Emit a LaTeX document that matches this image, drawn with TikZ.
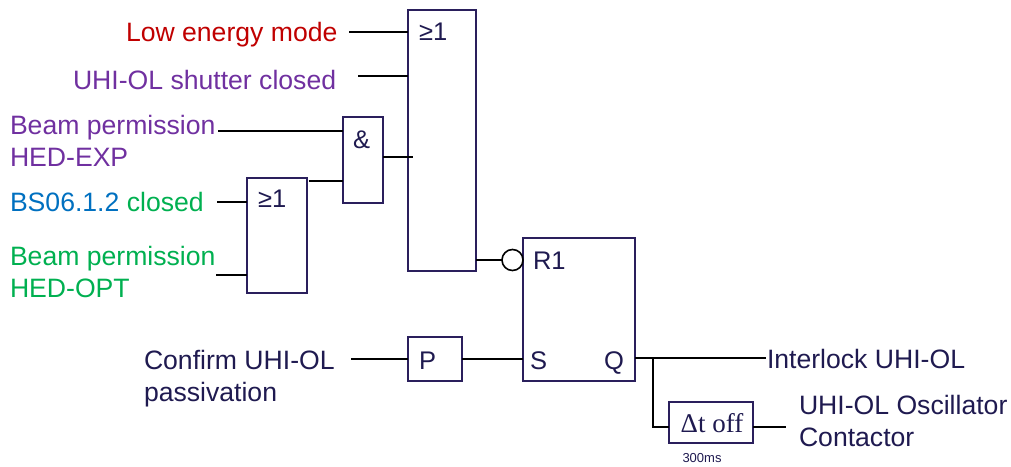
\documentclass[tikz,border=0pt]{standalone}
\usepackage{fontspec}
\setmainfont{Liberation Sans}
\newfontfamily\dtfont{Liberation Serif}
\definecolor{navy}{HTML}{2A1F5C}
\definecolor{lblred}{HTML}{C00000}
\definecolor{lblpurple}{HTML}{7030A0}
\definecolor{lblblue}{HTML}{0070C0}
\definecolor{lblgreen}{HTML}{00B050}
\definecolor{lblnavy}{HTML}{1F1A50}
\tikzset{
  gate/.style={draw=navy,line width=1.5pt,fill=white,inner sep=0pt,outer sep=0pt},
  wire/.style={draw=black,line width=1.6pt},
  lbl/.style={anchor=base west,inner sep=0pt,outer sep=0pt,align=left,font=\fontsize{26.6}{32}\selectfont},
  gatetxt/.style={anchor=base west,inner sep=0pt,outer sep=0pt,text=lblnavy,font=\fontsize{25.5}{30}\selectfont},
}
\begin{document}
\begin{tikzpicture}[x=1pt,y=-1pt]
\useasboundingbox (0,0) rectangle (1011,466);
% free ends of the wires
\coordinate (cLow) at (349,32);
\coordinate (cShut) at (358,76);
\coordinate (cExp) at (218,131);
\coordinate (cBs) at (217,202);
\coordinate (cOpt) at (216,275);
\coordinate (cConf) at (351,359);
\coordinate (cInt) at (766,358);
\coordinate (cOsc) at (786,427);
\coordinate (cBranch) at (653,358);
\coordinate (cIn) at (413,157);
\coordinate (cOrOut) at (309,181);
% gates
\node[gate,minimum width=68pt,minimum height=261pt] (or1) at (442,140.5) {};
\node[gate,minimum width=40pt,minimum height=86pt] (and) at (363,160) {};
\node[gate,minimum width=60pt,minimum height=115pt] (or2) at (277,235.5) {};
\node[gate,minimum width=112pt,minimum height=143pt] (sr) at (579,309.5) {};
\node[gate,minimum width=54pt,minimum height=44pt] (pp) at (435,359) {};
\node[gate,minimum width=84pt,minimum height=41pt] (dt) at (711,422.5) {};
\node[draw=black,line width=1.6pt,circle,fill=white,inner sep=0pt,outer sep=0pt,minimum size=21pt] (inv) at (512.5,260) {};
% gate texts
\node[gatetxt] (t1) at (419,40) {≥1};
\node[gatetxt] (t2) at (353,148) {\&};
\node[gatetxt] (t3) at (258,207) {≥1};
\node[gatetxt] (t4) at (533,269) {R1};
\node[gatetxt] (t5) at (530,369) {S};
\node[gatetxt] (t6) at (604,369) {Q};
\node[gatetxt] (t7) at (419,369) {P};
\node[anchor=base,inner sep=0pt,text=lblnavy,font=\dtfont\fontsize{27}{30}\selectfont] (t8) at (712,432) {Δt off};
\node[anchor=base,inner sep=0pt,text=lblnavy,font=\fontsize{13}{15}\selectfont] (t9) at (702,462) {300ms};
% labels
\node[lbl,text=lblred] (lLow) at (126,41) {Low energy mode};
\node[lbl,text=lblpurple] (lShut) at (73,89) {UHI-OL shutter closed};
\node[lbl,text=lblpurple,anchor=north west] (lExp) at (10,115) {Beam permission\\HED-EXP};
\node[lbl] (lBs) at (10,211) {\textcolor{lblblue}{BS06.1.2} \textcolor{lblgreen}{closed}};
\node[lbl,text=lblgreen,anchor=north west] (lOpt) at (10,246) {Beam permission\\HED-OPT};
\node[lbl,text=lblnavy,anchor=north west] (lConf) at (144,350) {Confirm UHI-OL\\passivation};
\node[lbl,text=lblnavy] (lInt) at (767,368) {Interlock UHI-OL};
\node[lbl,text=lblnavy,anchor=north west] (lOsc) at (799,395) {UHI-OL Oscillator\\Contactor};
% wires
\draw[wire] (cLow) -- (or1.west |- cLow);
\draw[wire] (cShut) -- (or1.west |- cShut);
\draw[wire] (cExp) -- (and.west |- cExp);
\draw[wire] (cOrOut) -- (and.west |- cOrOut);
\draw[wire] (cBs) -- (or2.west |- cBs);
\draw[wire] (cOpt) -- (or2.west |- cOpt);
\draw[wire] (and.east |- cIn) -- (cIn);
\draw[wire] (or1.east |- inv) -- (inv.west);
\draw[wire] (cConf) -- (pp.west);
\draw[wire] (pp.east) -- (sr.west |- pp.east);
\draw[wire] (sr.east |- cInt) -- (cInt);
\draw[wire] (cBranch) |- (dt.west |- cOsc);
\draw[wire] (dt.east |- cOsc) -- (cOsc);
\end{tikzpicture}
\end{document}
